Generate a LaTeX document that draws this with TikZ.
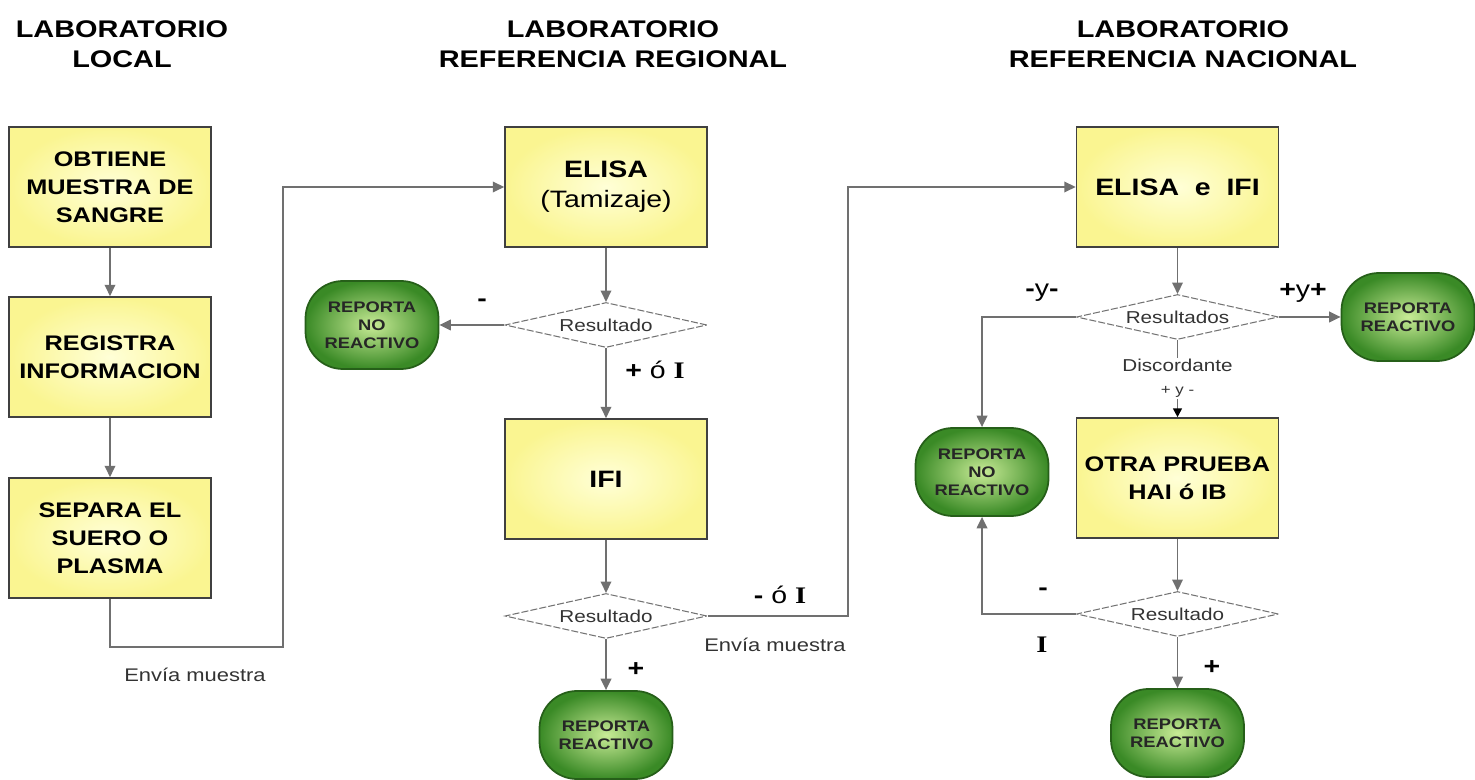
\documentclass[tikz,border=0pt]{standalone}
\usepackage{fontspec}
\setmainfont{Liberation Sans}[FakeStretch=1.2]
\newfontfamily\flserif{Liberation Serif}[FakeStretch=1.2]
\usetikzlibrary{shapes.geometric}
\usetikzlibrary{arrows.meta}
\definecolor{cajafondo}{RGB}{250,245,145}
\definecolor{cajacentro}{RGB}{255,255,215}
\definecolor{verdeborde}{RGB}{38,95,25}
\definecolor{verdefondo}{RGB}{58,138,38}
\definecolor{verdecentro}{RGB}{200,235,150}
\definecolor{lineagris}{RGB}{112,112,112}
\newcommand{\flcolxa}{2.2}
\newcommand{\flcolxb}{12.12}
\newcommand{\flcolxc}{23.55}
\newcommand{\flrowcaja}{-3.74}
\newcommand{\flrowreac}{-14.7}

\begin{document}
\begin{tikzpicture}[
    titulo/.style={align=center, font=\fontsize{13.7}{17}\selectfont\bfseries},
    caja/.style={draw=black!75, line width=0.9pt, inner color=cajacentro, outer color=cajafondo,
      minimum width=4.04cm, minimum height=2.4cm, align=center, font=\fontsize{12}{16}\selectfont\bfseries},
    reporta/.style={draw=verdeborde, line width=1pt, rounded corners=0.75cm, inner color=verdecentro,
      outer color=verdefondo, minimum width=2.66cm, minimum height=1.76cm, align=center, inner sep=1pt,
      font=\fontsize{8.7}{10.2}\selectfont\bfseries, text=black!85},
    decide/.style={diamond, aspect=4.5, draw=black!55, dash pattern=on 4pt off 1.2pt, line width=0.6pt,
      minimum width=4.04cm, minimum height=0.9cm, inner sep=0pt, font=\fontsize{9.8}{11}\selectfont, text=black!80},
    flecha/.style={draw=lineagris, line width=1pt, -{Triangle[length=6.5pt,width=6pt]}},
    etiq/.style={font=\fontsize{13.5}{15}\selectfont\bfseries},
    nota/.style={font=\fontsize{10.4}{12}\selectfont, text=black!80}
  ]

    \useasboundingbox (0,0) rectangle (29.5,-15.6);

    \node [titulo] (tlocal) at (2.44,-0.88) {LABORATORIO\\LOCAL};
    \node [titulo] (tregional) at (12.26,-0.88) {LABORATORIO\\REFERENCIA REGIONAL};
    \node [titulo] (tnacional) at (23.66,-0.88) {LABORATORIO\\REFERENCIA NACIONAL};

    \node [caja] (obtiene) at (\flcolxa,\flrowcaja) {OBTIENE\\MUESTRA DE\\SANGRE};
    \node [caja] (registra) at (\flcolxa,-7.14) {REGISTRA\\INFORMACION};
    \node [caja] (separa) at (\flcolxa,-10.76) {SEPARA EL\\SUERO O\\PLASMA};

    \node [caja, font=\fontsize{13.5}{17}\selectfont\bfseries] (elisa) at (\flcolxb,\flrowcaja)
      {ELISA\\{\mdseries (Tamizaje)}};
    \node [decide] (resa) at (\flcolxb,-6.5) {Resultado};
    \node [reporta] (noreaca) at (7.44,-6.5) {REPORTA\\NO\\REACTIVO};
    \node [caja, font=\fontsize{13.5}{17}\selectfont\bfseries] (ifi) at (\flcolxb,-9.58) {IFI};
    \node [decide] (resb) at (\flcolxb,-12.32) {Resultado};
    \node [reporta] (reaca) at (\flcolxb,\flrowreac) {REPORTA\\REACTIVO};

    \node [caja, font=\fontsize{13.5}{17}\selectfont\bfseries] (elisaifi) at (\flcolxc,\flrowcaja)
      {ELISA\ \ e\ \ IFI};
    \node [decide] (resc) at (\flcolxc,-6.34) {Resultados};
    \node [reporta] (reacb) at (28.16,-6.34) {REPORTA\\REACTIVO};
    \node [reporta] (noreacb) at (19.64,-9.44) {REPORTA\\NO\\REACTIVO};
    \node [caja] (otra) at (\flcolxc,-9.56) {OTRA PRUEBA\\HAI ó IB};
    \node [decide] (resd) at (\flcolxc,-12.28) {Resultado};
    \node [reporta] (reacc) at (\flcolxc,-14.66) {REPORTA\\REACTIVO};

    \coordinate (envioa) at (5.66,-12.94);
    \coordinate (enviob) at (16.96,-12.32);

    \draw [flecha] (obtiene) -- (registra);
    \draw [flecha] (registra) -- (separa);
    \draw [flecha] (separa.south) |- (envioa) |- (elisa.west);
    \node [nota] (enviatxa) at (3.9,-13.5) {Envía muestra};

    \draw [flecha] (elisa) -- (resa);
    \draw [flecha] (resa.west) -- (noreaca.east);
    \draw [flecha] (resa.south) -- (ifi.north);
    \draw [flecha] (ifi) -- (resb);
    \draw [flecha] (resb.south) -- (reaca.north);
    \draw [flecha] (resb.east) -- (enviob) |- (elisaifi.west);
    \node [etiq] (lmenosa) at (9.64,-6.06) {-};
    \node [etiq] (lmasoi) at (13.1,-7.4) {+ {\mdseries ó} {\flserif I}};
    \node [etiq] (lmasa) at (12.72,-13.4) {+};
    \node [etiq] (lmenosoi) at (15.6,-11.9) {- {\mdseries ó} {\flserif I}};
    \node [nota] (enviatxb) at (15.5,-12.9) {Envía muestra};

    \draw [flecha] (elisaifi) -- (resc);
    \draw [flecha] (resc.east) -- (reacb.west);
    \draw [flecha] (resc.west) -| (noreacb.north);
    \draw [flecha, -{Triangle[length=5pt,width=5pt,color=black]}] (resc.south) --
      node [fill=white, inner sep=1pt, align=center, font=\fontsize{9.8}{13}\selectfont, text=black!80] (discord)
      {Discordante\\{\fontsize{8}{9}\selectfont + y -}} (otra.north);
    \draw [flecha] (otra) -- (resd);
    \draw [flecha] (resd.west) -| (noreacb.south);
    \draw [flecha] (resd.south) -- (reacc.north);
    \node [etiq] (lmenosymenos) at (20.84,-5.86) {-{\mdseries y}-};
    \node [etiq] (lmasymas) at (26.06,-5.86) {+{\mdseries y}+};
    \node [etiq] (lmenosb) at (20.86,-11.84) {-};
    \node [etiq] (lib) at (20.84,-12.9) {\flserif I};
    \node [etiq] (lmasb) at (24.24,-13.36) {+};

  \end{tikzpicture}
\end{document}
